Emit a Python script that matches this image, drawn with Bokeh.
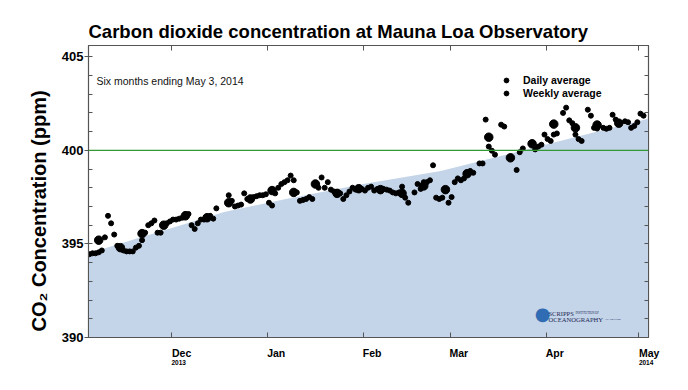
from datetime import datetime, timedelta
from bokeh.plotting import figure
from bokeh.models import (Range1d, FixedTicker, LinearAxis, DatetimeAxis, Span, Label,
                          Legend, LegendItem, ColumnDataSource, CustomJSTickFormatter)
from bokeh.embed import file_html
from bokeh.resources import INLINE

START = datetime(2013, 11, 3)

# ---- data (days after Nov 3, 2013; ppm) ----
daily_day = [0, 1, 2, 3, 4, 5, 6, 7, 8, 9,
             10, 11, 12, 13, 14, 15, 16, 17, 18, 19,
             20, 21, 22, 23, 24, 25, 26, 27, 28, 29,
             30, 31, 32, 33, 34, 35, 36, 37, 38, 39,
             40, 41, 42,
             46, 47, 48, 49, 50, 51, 52, 53, 54, 55,
             56, 57, 58, 59, 60, 61, 62, 63, 64, 65,
             66, 67, 68, 69, 70, 71, 72, 73, 74, 75,
             76, 77, 78, 79, 80, 81, 82, 83, 84, 85,
             86, 87, 88, 89, 90, 91, 92, 93, 94, 95,
             96, 97, 98, 99, 100, 101, 102, 103, 104,
             106, 107, 108, 109, 110, 111, 112, 113, 114, 115,
             117, 118, 119, 120, 121, 122, 123, 124, 125,
             127, 128, 129, 130, 131, 132, 134, 135,
             139, 140, 141, 145, 146, 147, 148, 149, 150, 151, 152,
             154, 155, 156, 157, 158, 159, 160, 162, 163, 164, 165,
             167, 168, 169, 170, 171, 172, 174, 175, 176, 177, 178, 179, 180]
daily_ppm = [394.45, 394.45, 394.5, 394.5, 394.55, 394.65, 395.35, 396.5, 396.1, 395.5,
             394.9, 394.75, 394.65, 394.6, 394.6, 394.6, 394.8, 394.9, 395.2, 395.6,
             396.0, 396.1, 396.25, 395.6, 395.6, 396.0, 396.1, 396.2, 396.3, 396.3,
             396.35, 396.4, 396.6, 396.6, 396.0, 395.8, 396.1, 396.3, 396.3, 396.4,
             396.5, 396.35, 396.9,
             397.6, 397.3, 397.0, 397.05, 397.1, 397.7, 397.4, 397.45, 397.5, 397.55,
             397.6, 397.6, 397.65, 397.2, 397.05, 397.7, 398.0, 398.2, 398.3, 398.4,
             398.65, 398.4, 397.75, 397.3, 397.35, 397.4, 397.5, 397.4, 398.2, 398.0,
             398.55, 398.0, 398.3, 397.9, 397.8, 397.75, 397.7, 397.4, 397.6, 397.8,
             398.0, 397.9, 398.0, 397.94, 397.85, 398.0, 398.06, 397.85, 397.94, 397.9,
             397.94, 397.9, 397.85, 397.75, 397.7, 397.75, 398.06, 397.47, 397.2,
             397.75, 398.2, 397.94, 398.3, 398.3, 398.4, 399.2, 397.47, 397.4, 397.47,
             397.2, 397.5, 398.3, 398.5, 398.4, 398.5, 398.7, 398.9, 398.8,
             399.3, 399.3, 401.64, 400.2, 399.98, 399.77, 401.37, 401.27,
             398.95, 399.9, 400.1, 400.05, 400.2, 400.3, 400.84, 400.6, 400.5, 400.84, 400.9,
             402.0, 402.28, 401.6, 401.45, 400.84, 400.6, 400.5, 402.17, 401.85, 401.2, 401.16,
             401.2, 401.15, 401.2, 401.9, 401.64, 401.5, 401.55, 401.5, 401.2, 401.3, 401.5, 401.96, 401.85]

weekly_day = [4.5, 11.5, 18.5, 25.5, 32.5, 39.5, 46.5, 53.5, 60.5, 67.5,
              74.5, 81.5, 88.5, 95.5, 102.5, 109.5, 116.5, 123.5, 130.5, 137.5,
              144.5, 151.5, 158.5, 165.5, 172.5]
weekly_ppm = [395.2, 394.8, 395.55, 396.0, 396.5, 396.4, 397.2, 397.4, 397.85, 397.75,
              398.2, 397.7, 397.95, 397.9, 397.7, 398.1, 397.9, 398.75, 400.7, 399.6,
              400.35, 401.4, 401.2, 401.35, 401.45]

fill_day = [0, 15, 30, 45, 65, 90, 115, 135, 150, 165, 185]
fill_ppm = [394.44, 395.2, 395.95, 396.7, 397.4, 398.2, 398.9, 399.72, 400.35, 400.98, 401.82]

tick_dates = ["2013-12-01", "2014-01-01", "2014-02-01", "2014-03-01", "2014-04-01", "2014-05-01"]
tick_labels = ["Dec", "Jan", "Feb", "Mar", "Apr", "May"]
tick_years = ["2013", "", "", "", "", "2014"]

TITLE = "Carbon dioxide concentration at Mauna Loa Observatory"
SUBTITLE = "Six months ending May 3, 2014"
YLABEL = "CO\u2082 Concentration (ppm)"

EPOCH = datetime(1970, 1, 1)
def ms(dt):
    return (dt - EPOCH).total_seconds() * 1000.0

daily_x = [START + timedelta(days=d + 0.5) for d in daily_day]
weekly_x = [START + timedelta(days=d) for d in weekly_day]
fill_x = [START + timedelta(days=d) for d in fill_day]
tick_ms = [ms(datetime.strptime(t, "%Y-%m-%d")) for t in tick_dates]

x_start = START + timedelta(days=1.2)
x_end = x_start + timedelta(days=180.9)

# tick labels sit to the right of their tick (left-aligned): pad the centred
# label on the left with no-break spaces as wide as the label itself
BOLD_W = {"D": .722, "e": .556, "c": .556, "J": .556, "a": .556, "n": .611, "F": .611,
          "b": .611, "M": .833, "r": .389, "A": .722, "p": .611, "y": .556}
NBSP_W = .278
def left_pad(text):
    if not text:
        return text
    w = sum(BOLD_W.get(ch, .556) for ch in text)
    return "\u00a0" * int(round(w / NBSP_W)) + text

FONT = "Liberation Sans"
AX = "#555555"

p = figure(width=680, height=382, x_axis_type="datetime",
           x_range=Range1d(x_start, x_end), y_range=Range1d(390, 405.6),
           output_backend="svg", toolbar_location=None,
           min_border_left=88, min_border_right=32, min_border_top=45, min_border_bottom=45)
p.grid.visible = False
p.outline_line_color = AX
p.outline_line_width = 1.2
p.background_fill_color = "white"
p.border_fill_color = "white"

p.title.text = TITLE
p.title.align = "left"
p.title.text_font = FONT
p.title.text_font_style = "bold"
p.title.text_font_size = "18.5px"
p.title.text_color = "black"
p.title.standoff = 7
p.title.offset = 0

empty = CustomJSTickFormatter(code="return ''")

# bottom axis: month ticks and names
bx = p.xaxis[0]
bx.ticker = FixedTicker(ticks=tick_ms)
bx.major_label_overrides = {t: left_pad(l) for t, l in zip(tick_ms, tick_labels)}
bx.major_label_text_font = FONT
bx.major_label_text_font_style = "bold"
bx.major_label_text_font_size = "10.5px"
bx.major_label_text_color = "black"
bx.major_label_standoff = 9
bx.major_tick_in = 5
bx.major_tick_out = 0
bx.minor_tick_line_color = None
bx.axis_line_color = AX
bx.major_tick_line_color = AX

# years under Dec and May
yr_ticks = [t for t, y in zip(tick_ms, tick_years) if y]
yx = DatetimeAxis(ticker=FixedTicker(ticks=yr_ticks),
                  major_label_overrides={t: left_pad(y) for t, y in zip(tick_ms, tick_years) if y},
                  major_label_text_font=FONT, major_label_text_font_style="bold",
                  major_label_text_font_size="6.5px", major_label_text_color="black",
                  major_label_standoff=-9, major_tick_line_color=None,
                  minor_tick_line_color=None, axis_line_color=None)
p.add_layout(yx, "below")

# left axis
ly = p.yaxis[0]
ly.ticker = FixedTicker(ticks=[390, 395, 400, 405], minor_ticks=list(range(390, 406)))
ly.major_tick_in = 0
ly.major_tick_out = 4
ly.minor_tick_in = 4
ly.minor_tick_out = 0
ly.axis_line_color = AX
ly.major_tick_line_color = AX
ly.minor_tick_line_color = AX
ly.major_label_text_font = FONT
ly.major_label_text_font_style = "bold"
ly.major_label_text_font_size = "13px"
ly.major_label_text_color = "black"
ly.major_label_standoff = 1
ly.axis_label = YLABEL + "\u00a0" * 7
ly.axis_label_text_font = FONT
ly.axis_label_text_font_style = "bold"
ly.axis_label_text_font_size = "20px"
ly.axis_label_text_color = "black"
ly.axis_label_standoff = 9

# right axis
ry = LinearAxis(ticker=FixedTicker(ticks=list(range(390, 406))), formatter=empty,
                major_label_text_font_size="0px",
                major_tick_in=4, major_tick_out=0, minor_tick_line_color=None,
                axis_line_color=AX, major_tick_line_color=AX, major_label_standoff=0)
p.add_layout(ry, "right")

# top axis
tx = DatetimeAxis(ticker=FixedTicker(ticks=tick_ms), formatter=empty,
                  major_label_text_font_size="0px",
                  major_tick_in=5, major_tick_out=0, minor_tick_line_color=None,
                  axis_line_color=AX, major_tick_line_color=AX, major_label_standoff=0)
p.add_layout(tx, "above")

# seasonal curve fill
p.varea(x=fill_x, y1=389, y2=fill_ppm, fill_color="#c4d4e9")
p.add_layout(Span(location=400, dimension="width", line_color="#339933", line_width=1.3))

src_d = ColumnDataSource(dict(x=daily_x, y=daily_ppm))
src_w = ColumnDataSource(dict(x=weekly_x, y=weekly_ppm))
r_d = p.scatter("x", "y", source=src_d, size=5, color="black")
r_w = p.scatter("x", "y", source=src_w, size=8.5, color="black")

legend = Legend(items=[LegendItem(label="Daily average", renderers=[r_d]),
                       LegendItem(label="Weekly average", renderers=[r_w])],
                location=(412, 238), glyph_width=12, glyph_height=12, label_height=12,
                label_width=10, spacing=1, padding=0, margin=0, label_standoff=11,
                border_line_alpha=0, background_fill_alpha=0,
                label_text_font=FONT, label_text_font_style="bold",
                label_text_font_size="10.5px", label_text_color="black")
p.add_layout(legend)

# subtitle inside the frame
p.add_layout(Label(x=8, y=257, x_units="screen", y_units="screen", text=SUBTITLE,
                   text_font=FONT, text_font_size="10.5px", text_color="#111111",
                   text_baseline="alphabetic", text_align="left"))

# Scripps logo
LOGO = "#1c2a55"
p.add_layout(Label(x=454, y=24, x_units="screen", y_units="screen", text="\u25cf",
                   text_font="DejaVu Sans", text_font_size="18px", text_color="#2f6cb3",
                   text_baseline="middle", text_align="center"))
p.add_layout(Label(x=460, y=24, x_units="screen", y_units="screen", text="SCRIPPS",
                   text_font="Liberation Serif", text_font_size="6.5px", text_color=LOGO,
                   text_baseline="alphabetic", text_align="left"))
p.add_layout(Label(x=487, y=25, x_units="screen", y_units="screen", text="INSTITUTION OF",
                   text_font="Liberation Serif", text_font_size="3px", text_color=LOGO,
                   text_baseline="alphabetic", text_align="left"))
p.add_layout(Label(x=460, y=18.5, x_units="screen", y_units="screen", text="OCEANOGRAPHY",
                   text_font="Liberation Serif", text_font_size="6.6px", text_color=LOGO,
                   text_baseline="alphabetic", text_align="left"))
p.add_layout(Label(x=517, y=18.5, x_units="screen", y_units="screen", text="UC San Diego",
                   text_font="Liberation Serif", text_font_size="2.6px", text_color=LOGO,
                   text_baseline="alphabetic", text_align="left"))

open("out.html", "w").write(file_html(p, INLINE))
